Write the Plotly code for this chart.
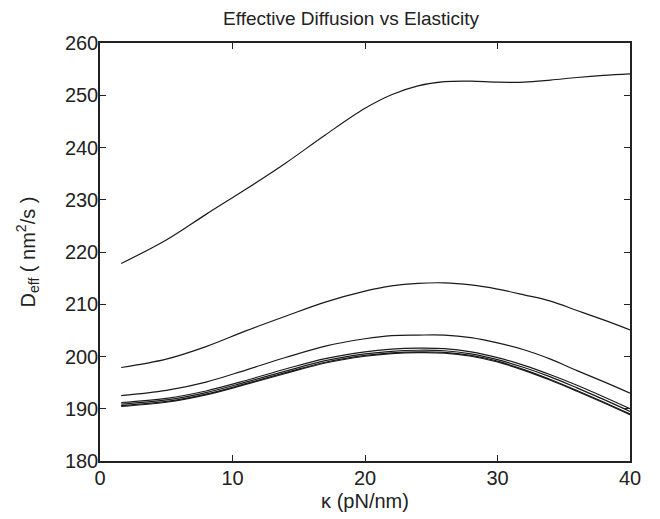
import plotly.graph_objects as go

kappa = [1.6, 5, 8, 11, 14, 17, 20, 22, 24, 26, 28, 30, 32, 34, 36, 38, 40]

d_top = [217.8, 222.3, 227.2, 232.0, 237.0, 242.4, 247.5, 250.1, 251.8, 252.6, 252.7,
         252.5, 252.5, 252.9, 253.4, 253.8, 254.1]
d_second = [197.9, 199.5, 201.9, 204.9, 207.7, 210.4, 212.5, 213.5, 214.0, 214.1, 213.7,
            212.9, 211.8, 210.6, 208.8, 207.0, 205.1]
d_third = [192.5, 193.5, 195.1, 197.4, 199.8, 202.0, 203.4, 204.0, 204.1, 204.1, 203.6,
           202.6, 201.3, 199.5, 197.3, 195.2, 193.0]
d_fourth = [191.2, 192.0, 193.4, 195.4, 197.6, 199.6, 200.9, 201.4, 201.6, 201.5, 200.9,
            199.8, 198.3, 196.5, 194.5, 192.3, 190.0]
d_fifth = [190.9, 191.7, 193.1, 195.1, 197.2, 199.2, 200.5, 201.0, 201.2, 201.1, 200.5,
           199.4, 197.9, 196.1, 194.0, 191.8, 189.5]
d_sixth = [190.6, 191.4, 192.8, 194.8, 196.9, 198.9, 200.2, 200.7, 200.9, 200.8, 200.2,
           199.1, 197.5, 195.6, 193.5, 191.3, 189.0]
d_seventh = [190.45, 191.25, 192.65, 194.65, 196.75, 198.75, 200.05, 200.55, 200.75, 200.65, 200.05,
             198.95, 197.35, 195.45, 193.35, 191.15, 188.85]

series = [d_top, d_second, d_third, d_fourth, d_fifth, d_sixth, d_seventh]

x_ticks = [0, 10, 20, 30, 40]
y_ticks = [180, 190, 200, 210, 220, 230, 240, 250, 260]

fig = go.Figure()
for s in series:
    fig.add_trace(go.Scatter(x=kappa, y=s, mode="lines",
                             line=dict(color="#1a1a1a", width=1.2, shape="spline"),
                             showlegend=False, hoverinfo="skip"))

font_family = "Liberation Sans, Arial, sans-serif"
fig.update_layout(
    width=660, height=519,
    margin=dict(l=92, r=38, t=35, b=66),
    paper_bgcolor="white", plot_bgcolor="white",
    font=dict(family=font_family, color="#222", size=20),
    title=dict(text="Effective Diffusion vs Elasticity", x=343 / 660, xanchor="center",
               y=1 - 10 / 519, yanchor="middle", font=dict(size=19, color="#222")),
    showlegend=False,
)
fig.update_xaxes(range=[0, 40], tickvals=x_ticks, ticktext=[str(v) for v in x_ticks],
                 showline=True, linecolor="#222", linewidth=1.5, mirror="ticks",
                 ticks="inside", ticklen=6, tickcolor="#222", showgrid=False, zeroline=False,
                 tickfont=dict(size=20), ticklabelstandoff=-2,
                 title=dict(text="κ (pN/nm)", font=dict(size=20), standoff=6))
fig.update_yaxes(range=[180, 260], tickvals=y_ticks, ticktext=[str(v) for v in y_ticks],
                 showline=True, linecolor="#222", linewidth=1.5, mirror="ticks",
                 ticks="inside", ticklen=6, tickcolor="#222", showgrid=False, zeroline=False,
                 tickfont=dict(size=20), ticklabelstandoff=-4,
                 title=dict(text="D<sub>eff</sub> ( nm<sup>2</sup>/s )", font=dict(size=20), standoff=24))

fig.write_html("out.html")
